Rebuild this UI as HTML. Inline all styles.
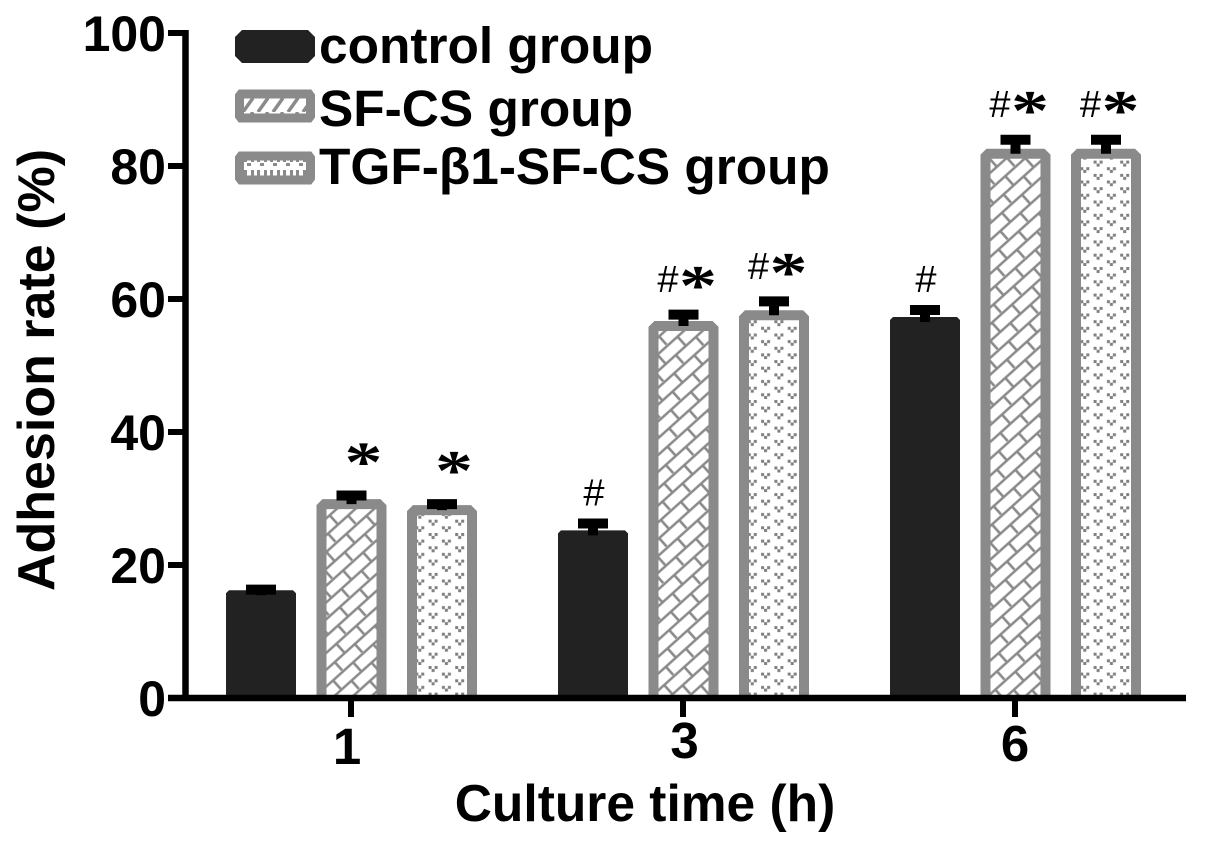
<!DOCTYPE html>
<html>
<head>
<meta charset="utf-8">
<style>
html,body{margin:0;padding:0;background:#fff;}
svg{display:block;}
text{font-family:"Liberation Sans",sans-serif;font-weight:bold;fill:#000;}
</style>
</head>
<body>
<svg id="chart" xmlns="http://www.w3.org/2000/svg" width="1205" height="850" viewBox="0 0 1205 850">
<defs>
<pattern id="brick" width="27" height="25" patternUnits="userSpaceOnUse" patternTransform="translate(3 0) rotate(-42)">
<rect width="27" height="25" fill="#fff"/>
<path d="M0 1.5H27M0 14H27M6 1.5V14M19.5 14V25" stroke="#8a8a8a" stroke-width="2.6" fill="none"/>
</pattern>
<pattern id="dots" width="26.6" height="13.3" patternUnits="userSpaceOnUse">
<rect width="26.6" height="13.3" fill="#fff"/>
<g fill="#808080">
<rect x="3" y="1" width="3" height="3"/><rect x="9" y="1" width="3" height="3"/><rect x="6" y="4" width="3" height="3"/>
<rect x="16.3" y="7.6" width="3" height="3"/><rect x="22.3" y="7.6" width="3" height="3"/><rect x="19.3" y="10.3" width="3" height="3"/>
</g>
</pattern>
<pattern id="legend-stripes" width="15" height="14" patternUnits="userSpaceOnUse" patternTransform="translate(243 98)">
<rect width="15" height="14" fill="#fff"/>
<path d="M0 14L10 0M-15 14L-5 0M15 14L25 0" stroke="#8a8a8a" stroke-width="3.5" fill="none"/>
</pattern>
<pattern id="legend-dots" width="13" height="14" patternUnits="userSpaceOnUse" patternTransform="translate(243 159)">
<rect width="13" height="14" fill="#fff"/>
<g fill="#8a8a8a"><rect x="1" y="0" width="3" height="3"/><rect x="8" y="0" width="3" height="3"/><rect x="4" y="4" width="4" height="3"/><rect x="1" y="11" width="3" height="3"/><rect x="8" y="11" width="3" height="3"/></g>
</pattern>
</defs>

<g>
<g>
<path d="M242 30H308L315 37V56L308 63H242L235 56V37Z" fill="#222"/>
<text x="319" y="63" font-size="51.4">control group</text>
</g>
<g>
<path d="M241 94H309L310.500 96V116L309 118H241L239.500 116V96Z" fill="url(#legend-stripes)" stroke="#8a8a8a" stroke-width="9"/>
<text x="319" y="126" font-size="51.4">SF-CS group</text>
</g>
<g>
<path d="M241 156H309L310.500 158V178L309 180H241L239.500 178V158Z" fill="url(#legend-dots)" stroke="#8a8a8a" stroke-width="9"/>
<text x="319" y="184" font-size="51.4">TGF-β1-SF-CS group</text>
</g>
</g>

<text transform="translate(54 370) rotate(-90)" text-anchor="middle" font-size="52">Adhesion rate (%)</text>
<text x="645" y="821" text-anchor="middle" font-size="51.5">Culture time (h)</text>
<g id="marks"></g>
</svg>
<script>
var categories = ['1', '3', '6'];
var controlValues = [16.2, 25.2, 57.3];
var sfCsValues = [29.9, 56.7, 82.6];
var tgfValues = [29.0, 58.3, 82.6];
var controlErrors = [0.85, 1.8, 1.8];
var sfCsErrors = [1.3, 1.7, 2.1];
var tgfErrors = [0.9, 2.1, 2.1];
var controlNotes = ['', '#', '#'];
var sfCsNotes = ['*', '#*', '#*'];
var tgfNotes = ['*', '#*', '#*'];
var yTicks = [0, 20, 40, 60, 80, 100];

var NS = 'http://www.w3.org/2000/svg';
var root = document.getElementById('marks');
function yScale(v) { return 698 - v * 6.65; }
function groupCenter(i) { return 351 + i * 332; }
function make(tag, attrs, parent) {
  var el = document.createElementNS(NS, tag);
  for (var k in attrs) { el.setAttribute(k, attrs[k]); }
  (parent || root).appendChild(el);
  return el;
}
var series = [
  { key: 'control', values: controlValues, errors: controlErrors, notes: controlNotes, offset: -90, fill: '#222', stroke: 'none' },
  { key: 'sf-cs', values: sfCsValues, errors: sfCsErrors, notes: sfCsNotes, offset: 0.5, fill: 'url(#brick)', stroke: '#8a8a8a' },
  { key: 'tgf', values: tgfValues, errors: tgfErrors, notes: tgfNotes, offset: 91, fill: 'url(#dots)', stroke: '#8a8a8a' }
];
series.forEach(function (s) {
  categories.forEach(function (c, i) {
    var cx = groupCenter(i) + s.offset;
    var top = yScale(s.values[i]);
    var base = yScale(0);
    var hw = s.stroke === 'none' ? 35 : 30;
    var t = s.stroke === 'none' ? top : top + 5;
    var d = 'M' + (cx - hw) + ' ' + base + 'V' + (t + 3) + 'L' + (cx - hw + 3) + ' ' + t + 'H' + (cx + hw - 3) + 'L' + (cx + hw) + ' ' + (t + 3) + 'V' + base;
    var bar = make('path', { d: d, fill: s.fill, stroke: s.stroke, 'stroke-width': 10 });
    
    

    var capTop = yScale(s.values[i] + s.errors[i]);
    var err = make('path', { d: 'M' + (cx - 15) + ' ' + capTop + 'H' + (cx + 15) + 'V' + (capTop + 10) + 'H' + (cx + 5) + 'V' + (top + 5) + 'H' + (cx - 5) + 'V' + (capTop + 10) + 'H' + (cx - 15) + 'Z', fill: '#000' });
    
    

    var note = s.notes[i];
    if (note) {
      var hasHash = note.charAt(0) === '#';
      var hasStar = note.charAt(note.length - 1) === '*';
      if (hasHash) {
        var hash = make('text', { x: hasStar ? cx - 15.5 : cx + 1, y: capTop - (hasStar ? 17.5 : 13), 'text-anchor': 'middle', 'font-size': 38 });
        hash.style.fontWeight = 'normal';
        hash.textContent = '#';
        
        
      }
      if (hasStar) {
        var sx = cx + (hasHash ? 14.5 : 12);
        var sy = capTop - (hasHash ? 5 : 9.5);
        var star = make('text', { transform: 'translate(' + sx + ' ' + sy + ') scale(1 0.75)', 'text-anchor': 'middle', 'font-size': 76 });
        star.style.fontFamily = '"Liberation Serif", serif';
        star.textContent = '*';
        
        
      }
    }
  });
});

var yAxis = make('line', { x1: 185.5, x2: 185.5, y1: 30, y2: 701, stroke: '#000', 'stroke-width': 6.5 });


var xAxis = make('line', { x1: 168, x2: 1186, y1: 698, y2: 698, stroke: '#000', 'stroke-width': 6.5 });



yTicks.forEach(function (v) {
  var y = yScale(v);
  var tick = make('line', { x1: 168, x2: 186, y1: y, y2: y, stroke: '#000', 'stroke-width': 6 });
  
  
  var label = make('text', { x: 166, y: y + 18, 'text-anchor': 'end', 'font-size': 50 });
  label.textContent = String(v);
  
  
});
categories.forEach(function (c, i) {
  var cx = groupCenter(i);
  var tick = make('line', { x1: cx, x2: cx, y1: 698, y2: 717, stroke: '#000', 'stroke-width': 6 });
  
  
  var label = make('text', { x: cx + (i === 0 ? -4 : i === 1 ? 1.5 : 0), y: i === 0 ? 764 : i === 1 ? 758 : 761, 'text-anchor': 'middle', 'font-size': 51 });
  label.textContent = c;
  
  
});
</script>
</body>
</html>
